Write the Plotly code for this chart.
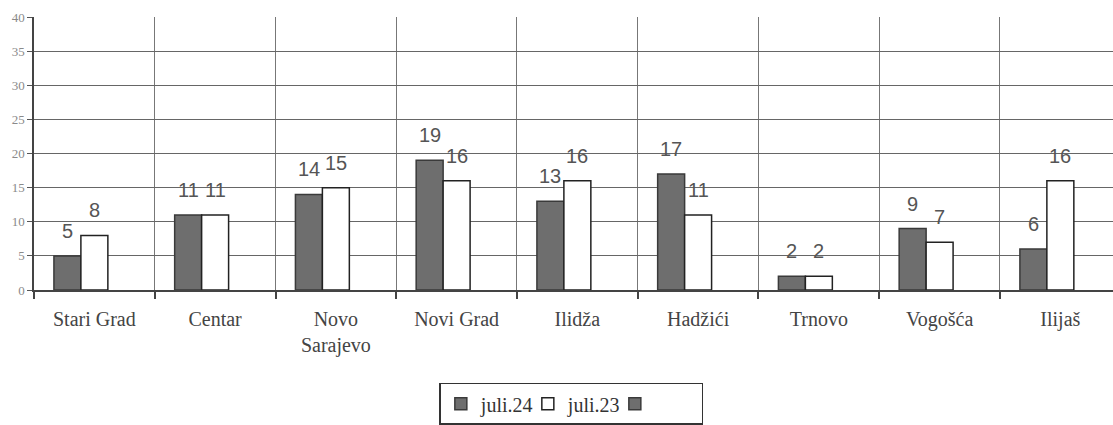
import plotly.graph_objects as go

categories = ["Stari Grad", "Centar", "Novo<br>Sarajevo", "Novi Grad", "Ilidža",
              "Hadžići", "Trnovo", "Vogošća", "Ilijaš"]
juli24 = [5, 11, 14, 19, 13, 17, 2, 9, 6]
juli23 = [8, 11, 15, 16, 16, 11, 2, 7, 16]
third = [None] * 9
y_ticks = list(range(0, 41, 5))

BARGAP = 0.33
w = (1 - BARGAP) / 3

fig = go.Figure()
fig.add_trace(go.Bar(x=categories, y=juli24, name="juli.24",
                     marker=dict(color="#6e6e6e", line=dict(color="#3a3a3a", width=1.5))))
fig.add_trace(go.Bar(x=categories, y=juli23, name="juli.23",
                     marker=dict(color="#ffffff", line=dict(color="#222222", width=1.5))))
fig.add_trace(go.Bar(x=categories, y=third, name="",
                     marker=dict(color="#6e6e6e", line=dict(color="#3a3a3a", width=1.5))))

lab_font = dict(family="Liberation Sans, Arial", size=20, color="#555555")
for i, (a, b) in enumerate(zip(juli24, juli23)):
    fig.add_annotation(x=i - w, y=a, text=str(a), showarrow=False, yanchor="bottom",
                       yshift=12, font=lab_font)
    fig.add_annotation(x=i, y=b, text=str(b), showarrow=False, yanchor="bottom",
                       yshift=12, font=lab_font)

fig.update_layout(
    width=1113, height=425,
    margin=dict(l=34, r=0, t=17, b=135, autoexpand=False),
    paper_bgcolor="white", plot_bgcolor="white",
    barmode="group", bargap=BARGAP, bargroupgap=0,
    showlegend=True,
    legend=dict(orientation="h", x=0.498, xanchor="center", y=-0.34, yanchor="top",
                bordercolor="#333333", borderwidth=1.5, bgcolor="white",
                font=dict(family="Liberation Serif, Times New Roman", size=20, color="#333333"),
                itemwidth=30, entrywidth=42, traceorder="normal"),
)
fig.update_xaxes(
    type="category", range=[-0.5, 8.436], automargin=False,
    tickson="boundaries", ticks="outside", ticklen=7, tickcolor="#444444", tickwidth=1.5,
    showgrid=True, gridcolor="#777777", gridwidth=1,
    showline=True, linecolor="#444444", linewidth=1.5,
    tickfont=dict(family="Liberation Serif, Times New Roman", size=20, color="#444444"),
    ticklabelstandoff=10,
)
fig.update_yaxes(
    range=[0, 40], tickvals=y_ticks, automargin=False,
    ticks="outside", ticklen=5, tickcolor="#555555",
    showgrid=True, gridcolor="#666666", gridwidth=1,
    showline=True, linecolor="#444444", linewidth=1.5,
    zeroline=False,
    tickfont=dict(family="Liberation Serif, Times New Roman", size=13, color="#8a8a8a"),
)
fig.write_html("out.html", config={"displayModeBar": False},
               post_script="document.body.style.margin='0';")
